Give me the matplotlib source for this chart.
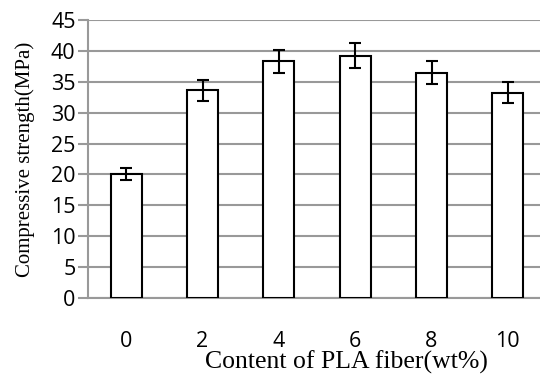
import matplotlib.pyplot as plt
import numpy as np

# PLA fiber content vs compressive strength
content = ['0', '2', '4', '6', '8', '10']
strength = [20.1, 33.6, 38.3, 39.2, 36.5, 33.2]
error = [1.0, 1.7, 1.9, 2.0, 1.9, 1.7]

fig = plt.figure(figsize=(5.4, 3.76), dpi=100)
W, H = 540, 376
ax = fig.add_axes([88 / W, (H - 298) / H, (546 - 88) / W, (298 - 20) / H])

x = np.arange(len(content))
ax.bar(x, strength, width=0.41, color='white', edgecolor='black', linewidth=1.5, zorder=3)
ax.errorbar(x, strength, yerr=error, fmt='none', ecolor='black', elinewidth=1.5,
            capsize=4.5, capthick=1.5, zorder=4)

ax.set_xlim(-0.5, len(content) - 0.5)
ax.set_ylim(0, 45)
ax.set_yticks(range(0, 50, 5))
ax.set_xticks(x)
ax.set_xticklabels(content)
ax.yaxis.grid(True, color='#999999', linewidth=1.5, zorder=0)

for s in ['top', 'right']:
    ax.spines[s].set_visible(False)
ax.spines['left'].set_color('#999999')
ax.spines['left'].set_linewidth(1.5)
ax.spines['bottom'].set_color('#999999')
ax.spines['bottom'].set_linewidth(1.5)

ax.tick_params(axis='y', length=7, width=1.5, color='#999999', labelsize=15.5, pad=2)
ax.tick_params(axis='x', length=0, labelsize=15.5, pad=24)
for lab in ax.get_xticklabels() + ax.get_yticklabels():
    lab.set_family('Open Sans')

xl = ax.set_xlabel('Content of PLA fiber(wt%)', family='Liberation Serif', fontsize=18.5)
xl.set_va('baseline')
ax.xaxis.set_label_coords((346 - 88) / 458, -(369 - 298) / 278)
ax.set_ylabel('Compressive strength(MPa)', family='Liberation Serif', fontsize=15)
ax.yaxis.set_label_coords(-53 / 458, 0.5)

plt.savefig('out.png', dpi=100)
